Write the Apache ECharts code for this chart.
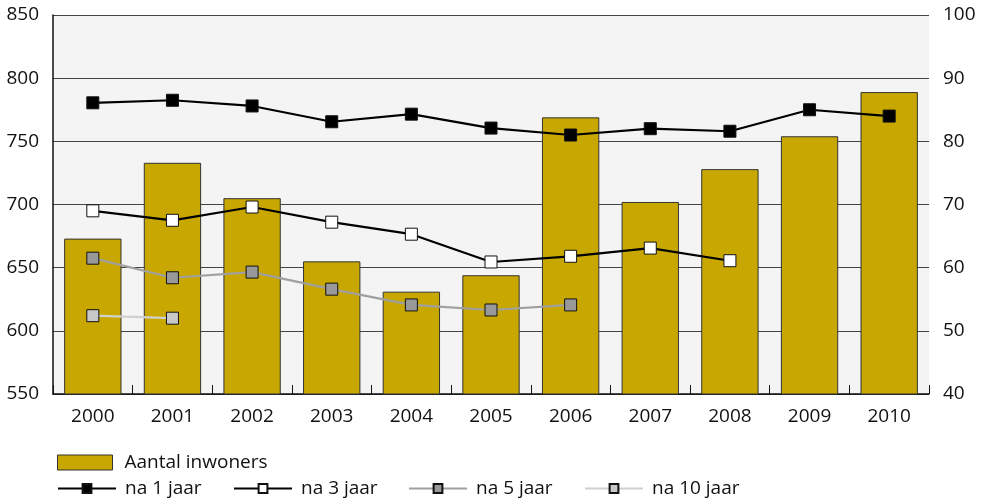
<!DOCTYPE html>
<html><head><meta charset="utf-8">
<script src="https://cdn.jsdelivr.net/npm/echarts@6/dist/echarts.min.js"></script>
<style>html,body{margin:0;padding:0;background:#fff}#c{width:983px;height:499px}</style>
</head><body><div id="c"></div>
<script>
var years = ['2000','2001','2002','2003','2004','2005','2006','2007','2008','2009','2010'];
var inwoners = [673, 733, 705, 655, 631, 644, 769, 702, 728, 754, 789];
var na1 = [86.1, 86.5, 85.6, 83.1, 84.3, 82.1, 81.0, 82.0, 81.6, 85.0, 84.0];
var na3 = [69.0, 67.5, 69.6, 67.2, 65.3, 60.9, 61.8, 63.1, 61.1, null, null];
var na5 = [61.5, 58.4, 59.3, 56.6, 54.1, 53.3, 54.1, null, null, null, null];
var na10 = [52.4, 52.0, null, null, null, null, null, null, null, null, null];
var leftTicks = {min: 550, max: 850, interval: 50};
var rightTicks = {min: 40, max: 100, interval: 10};

var font = 'Open Sans';
var chart = echarts.init(document.getElementById('c'));
function lineSeries(name, data, lineColor, fill) {
  return {
    name: name, type: 'line', yAxisIndex: 1, data: data,
    symbol: 'rect', symbolSize: 12, connectNulls: false,
    lineStyle: {color: lineColor, width: 2.2},
    itemStyle: {color: fill, borderColor: '#111', borderWidth: 1},
    emphasis: {disabled: true}, z: 5
  };
}
var legText = {fontFamily: font, fontSize: 19, color: '#111', padding: [0, 0, 0, 4]};
function lineLegend(name, left) {
  return {data: [name], left: left, top: 474, itemWidth: 58, itemHeight: 11,
    textStyle: legText, selectedMode: false};
}
chart.setOption({
  animation: false,
  grid: {left: 53, right: 54, top: 15, bottom: 105, show: true, backgroundColor: '#f4f4f4', borderWidth: 0},
  legend: [{
    data: [{name: 'Aantal inwoners', icon: 'rect'}], left: 52, top: 448,
    itemWidth: 55, itemHeight: 15, selectedMode: false,
    itemStyle: {borderColor: '#333', borderWidth: 1},
    textStyle: {fontFamily: font, fontSize: 19, color: '#111', padding: [0, 0, 0, 7]}
  },
    lineLegend('na 1 jaar', 52),
    lineLegend('na 3 jaar', 228),
    lineLegend('na 5 jaar', 403),
    lineLegend('na 10 jaar', 579)
  ],
  xAxis: {
    type: 'category', data: years,
    axisLine: {lineStyle: {color: '#111', width: 1.5}},
    axisTick: {show: true, inside: true, length: 9, alignWithLabel: false, lineStyle: {color: '#111'}},
    axisLabel: {fontFamily: font, fontSize: 19, color: '#111', margin: 13},
    splitLine: {show: false}
  },
  yAxis: [{
    type: 'value', min: leftTicks.min, max: leftTicks.max, interval: leftTicks.interval,
    axisLine: {show: true, lineStyle: {color: '#111', width: 1.5}},
    axisTick: {show: false},
    axisLabel: {fontFamily: font, fontSize: 19, color: '#111', margin: 14},
    splitLine: {show: true, lineStyle: {color: '#444', width: 1}}
  }, {
    type: 'value', min: rightTicks.min, max: rightTicks.max, interval: rightTicks.interval,
    axisLine: {show: false}, axisTick: {show: false},
    axisLabel: {fontFamily: font, fontSize: 19, color: '#111', margin: 14},
    splitLine: {show: false}
  }],
  series: [{
    name: 'Aantal inwoners', type: 'bar', yAxisIndex: 0, data: inwoners,
    barWidth: '72%',
    itemStyle: {color: '#c8a800', borderColor: '#333', borderWidth: 1},
    emphasis: {disabled: true}
  },
    lineSeries('na 1 jaar', na1, '#000', '#000'),
    lineSeries('na 3 jaar', na3, '#000', '#fff'),
    lineSeries('na 5 jaar', na5, '#a0a0a0', '#999'),
    lineSeries('na 10 jaar', na10, '#d0d0d0', '#c8c8c8')
  ]
});
</script></body></html>
